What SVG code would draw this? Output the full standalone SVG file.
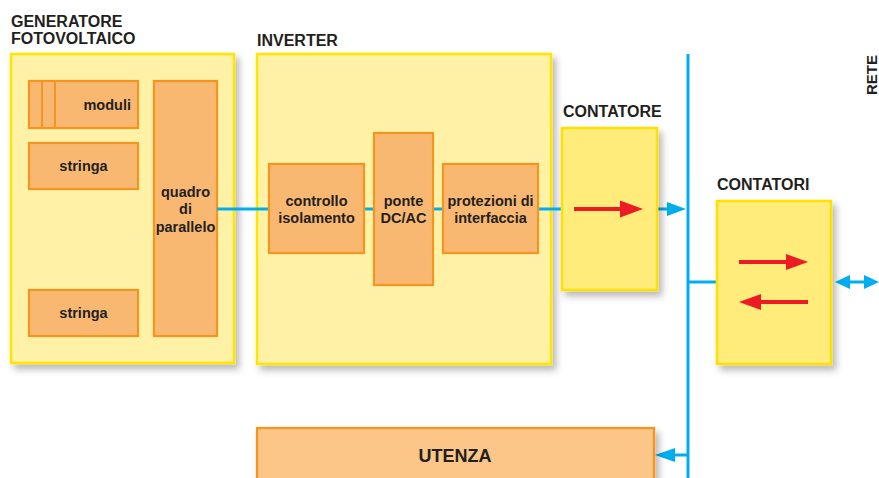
<svg xmlns="http://www.w3.org/2000/svg" width="879" height="478" viewBox="0 0 879 478">
  <defs>
    <filter id="shadow" x="-10%" y="-10%" width="130%" height="130%">
      <feDropShadow dx="4" dy="5" stdDeviation="3.5" flood-color="#000" flood-opacity="0.28"/>
    </filter>
  </defs>
  <style>
    .outer { fill: #FFF1A6; stroke: #FFE500; stroke-width: 2.5; filter: url(#shadow); }
    .meter { fill: #FFEC7A; stroke: #FFE000; stroke-width: 2.5; filter: url(#shadow); }
    .inner { fill: #F9B872; stroke: #F7941D; stroke-width: 2.2; }
    .load { fill: #FBC687; stroke: #F7941D; stroke-width: 2.2; filter: url(#shadow); }
    .title { font-family: "Liberation Sans", Arial, sans-serif; font-weight: bold; font-size: 16px; fill: #231F20; }
    .lbl { font-family: "Liberation Sans", Arial, sans-serif; font-weight: bold; font-size: 14.5px; fill: #231F20; text-anchor: middle; }
    .wire { stroke: #00AEEF; stroke-width: 3; fill: none; }
    .bhead { fill: #00AEEF; }
    .red { stroke: #ED1C24; stroke-width: 4; fill: none; }
    .rhead { fill: #ED1C24; }
  </style>

  <rect width="879" height="478" fill="#FFFFFF"/>

  <!-- photovoltaic generator -->
  <g id="generatore">
    <text class="title" x="11" y="27">GENERATORE</text>
    <text class="title" x="11" y="44">FOTOVOLTAICO</text>
    <rect class="outer" x="11" y="54" width="223" height="309"/>
    <rect class="inner" x="29" y="81" width="109" height="47"/>
    <line x1="42" y1="81" x2="42" y2="128" stroke="#F7941D" stroke-width="2"/>
    <line x1="55" y1="81" x2="55" y2="128" stroke="#F7941D" stroke-width="2"/>
    <text class="lbl" x="131" y="110" style="text-anchor:end">moduli</text>
    <rect class="inner" x="29" y="143" width="109" height="46"/>
    <text class="lbl" x="83.5" y="171">stringa</text>
    <rect class="inner" x="29" y="290" width="109" height="46"/>
    <text class="lbl" x="83.5" y="318">stringa</text>
    <rect class="inner" x="154" y="81" width="63" height="255"/>
    <text class="lbl" x="185.5" y="197">quadro</text>
    <text class="lbl" x="185.5" y="214">di</text>
    <text class="lbl" x="185.5" y="232">parallelo</text>
  </g>

  <!-- inverter -->
  <g id="inverter">
    <text class="title" x="257" y="46">INVERTER</text>
    <rect class="outer" x="257" y="54" width="294" height="310"/>
  </g>

  <!-- connectors -->
  <g id="connectors">
    <line class="wire" x1="217" y1="209" x2="270" y2="209"/>
    <line class="wire" x1="364" y1="209" x2="374" y2="209"/>
    <line class="wire" x1="433" y1="209" x2="443" y2="209"/>
    <line class="wire" x1="538" y1="209" x2="562" y2="209"/>
    <line class="wire" x1="657" y1="209" x2="670" y2="209"/>
    <polygon class="bhead" points="667,202 686,209 667,216"/>
    <line class="wire" x1="688" y1="54" x2="688" y2="478"/>
    <line class="wire" x1="688" y1="282" x2="717" y2="282"/>
    <line class="wire" x1="688" y1="455" x2="672" y2="455"/>
    <polygon class="bhead" points="675,448 655,455 675,462"/>
    <line class="wire" x1="848" y1="282" x2="866" y2="282"/>
    <polygon class="bhead" points="850,275 835,282 850,289"/>
    <polygon class="bhead" points="864,275 879,282 864,289"/>
  </g>

  <g id="controllo">
    <rect class="inner" x="269" y="164" width="95" height="89"/>
    <text class="lbl" x="316.5" y="206">controllo</text>
    <text class="lbl" x="316.5" y="223">isolamento</text>
  </g>

  <g id="ponte">
    <rect class="inner" x="374" y="133" width="59" height="152"/>
    <text class="lbl" x="403.5" y="206">ponte</text>
    <text class="lbl" x="403.5" y="223">DC/AC</text>
  </g>

  <g id="protezioni">
    <rect class="inner" x="443" y="164" width="95" height="89"/>
    <text class="lbl" x="490.5" y="206">protezioni di</text>
    <text class="lbl" x="490.5" y="223">interfaccia</text>
  </g>

  <!-- production meter -->
  <g id="contatore">
    <text class="title" x="563" y="117">CONTATORE</text>
    <rect class="meter" x="562" y="128" width="95" height="162"/>
    <line class="red" x1="574" y1="209" x2="624" y2="209"/>
    <polygon class="rhead" points="620,200.5 643,209 620,217.5"/>
  </g>

  <!-- bidirectional meters -->
  <g id="contatori">
    <text class="title" x="717" y="190">CONTATORI</text>
    <rect class="meter" x="717" y="201" width="114" height="163"/>
    <line class="red" x1="739" y1="262" x2="790" y2="262"/>
    <polygon class="rhead" points="786,254 808,262 786,270"/>
    <line class="red" x1="808" y1="302" x2="758" y2="302"/>
    <polygon class="rhead" points="761,294 739,302 761,310"/>
  </g>

  <g id="rete">
    <text class="title" transform="translate(876.5,95) rotate(-90)" x="0" y="0" style="font-size:15px">RETE</text>
  </g>

  <g id="utenza">
    <rect class="load" x="257" y="428" width="397" height="60"/>
    <text class="lbl" x="455" y="462" style="font-size:18px">UTENZA</text>
  </g>
</svg>
